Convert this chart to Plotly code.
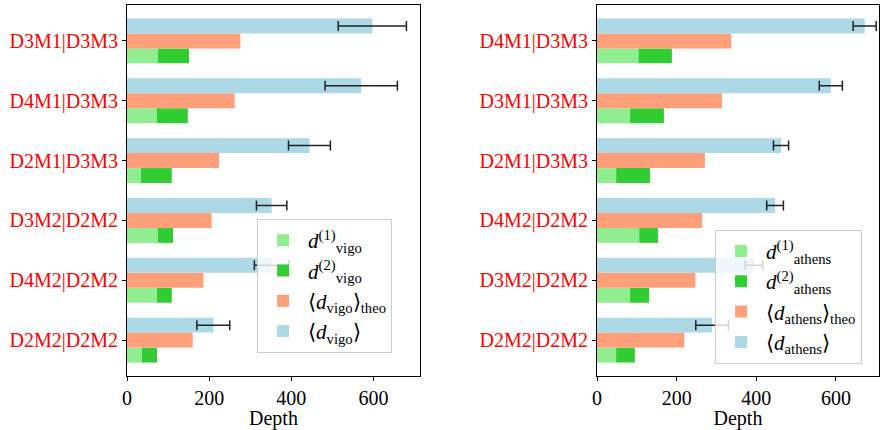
import plotly.graph_objects as go
from plotly.subplots import make_subplots

# Categories listed bottom -> top
cats_vigo = ["D2M2|D2M2", "D4M2|D2M2", "D3M2|D2M2", "D2M1|D3M3", "D4M1|D3M3", "D3M1|D3M3"]
vigo_d1 = [36, 73, 75, 34, 72, 75]
vigo_d2 = [37, 36, 37, 75, 76, 76]          # stacked on d1
vigo_theo = [160, 186, 206, 224, 262, 276]
vigo_mean = [210, 352, 352, 444, 570, 597]
vigo_err = [40, 42, 37, 51, 88, 83]

cats_athens = ["D2M2|D2M2", "D3M2|D2M2", "D4M2|D2M2", "D2M1|D3M3", "D3M1|D3M3", "D4M1|D3M3"]
athens_d1 = [48, 83, 106, 48, 83, 104]
athens_d2 = [47, 48, 47, 85, 85, 84]        # stacked on d1
athens_theo = [219, 247, 264, 271, 314, 337]
athens_mean = [289, 394, 447, 462, 587, 672]
athens_err = [41, 22, 21, 19, 29, 29]

C_D1 = "#90EE90"
C_D2 = "#32CD32"
C_THEO = "#FFA07A"
C_MEAN = "#ADD8E6"
FONT = "Liberation Serif"
W = 0.25

fig = make_subplots(rows=1, cols=2)


def add_panel(col, cats, d1, d2, theo, mean, err, name, legend):
    pos = list(range(len(cats)))
    base_pos = [p - W for p in pos]
    top_pos = [p + W for p in pos]
    fig.add_trace(go.Bar(y=base_pos, x=d1, orientation="h", width=W,
                         marker=dict(color=C_D1, line=dict(width=0)),
                         name=f"<i>d</i><sup>(1)</sup><sub>{name}</sub>",
                         legend=legend, legendgroup=f"{name}1"), row=1, col=col)
    fig.add_trace(go.Bar(y=base_pos, x=d2, base=d1, orientation="h", width=W,
                         marker=dict(color=C_D2, line=dict(width=0)),
                         name=f"<i>d</i><sup>(2)</sup><sub>{name}</sub>",
                         legend=legend, legendgroup=f"{name}2"), row=1, col=col)
    fig.add_trace(go.Bar(y=pos, x=theo, orientation="h", width=W,
                         marker=dict(color=C_THEO, line=dict(width=0)),
                         name=f"⟨<i>d</i><sub>{name}</sub>⟩<sub>theo</sub>",
                         legend=legend, legendgroup=f"{name}3"), row=1, col=col)
    fig.add_trace(go.Bar(y=top_pos, x=mean, orientation="h", width=W,
                         marker=dict(color=C_MEAN, line=dict(width=0)),
                         error_x=dict(type="data", array=err, visible=True,
                                      color="#222222", thickness=1.5, width=5),
                         name=f"⟨<i>d</i><sub>{name}</sub>⟩",
                         legend=legend, legendgroup=f"{name}4"), row=1, col=col)
    fig.update_yaxes(tickmode="array", tickvals=pos, ticktext=cats,
                     range=[-0.6, 5.6], row=1, col=col)


add_panel(1, cats_vigo, vigo_d1, vigo_d2, vigo_theo, vigo_mean, vigo_err, "vigo", "legend")
add_panel(2, cats_athens, athens_d1, athens_d2, athens_theo, athens_mean, athens_err, "athens", "legend2")

fig.update_xaxes(range=[0, 713], domain=[0, 0.3896], row=1, col=1)
fig.update_xaxes(range=[0, 708], domain=[0.625, 1], row=1, col=2)

axis_common = dict(showline=True, linecolor="black", linewidth=1, mirror=True,
                   ticks="outside", ticklen=4, tickwidth=1, tickcolor="black",
                   showgrid=False, zeroline=False, automargin=False)
fig.update_xaxes(**axis_common, tickvals=[0, 200, 400, 600],
                 tickfont=dict(family=FONT, size=20, color="black"),
                 title=dict(text="Depth", font=dict(family=FONT, size=20, color="black")))
fig.update_yaxes(**axis_common, tickfont=dict(family=FONT, size=20, color="red"))

legend_style = dict(bgcolor="rgba(255,255,255,0.8)", bordercolor="#cccccc", borderwidth=1,
                    font=dict(family=FONT, size=21, color="black"),
                    xanchor="left", yanchor="top", traceorder="normal",
                    itemwidth=40, tracegroupgap=6)
fig.update_layout(
    barmode="overlay",
    width=880, height=430,
    margin=dict(l=127, r=1, t=5, b=54, autoexpand=False),
    plot_bgcolor="white", paper_bgcolor="white",
    font=dict(family=FONT),
    legend=dict(**legend_style, x=0.173, y=0.423),
    legend2=dict(**legend_style, x=0.782, y=0.394),
)

fig.write_html("out.html", config={"displayModeBar": False},
               post_script="document.body.style.margin='0';document.body.style.overflow='hidden';")
